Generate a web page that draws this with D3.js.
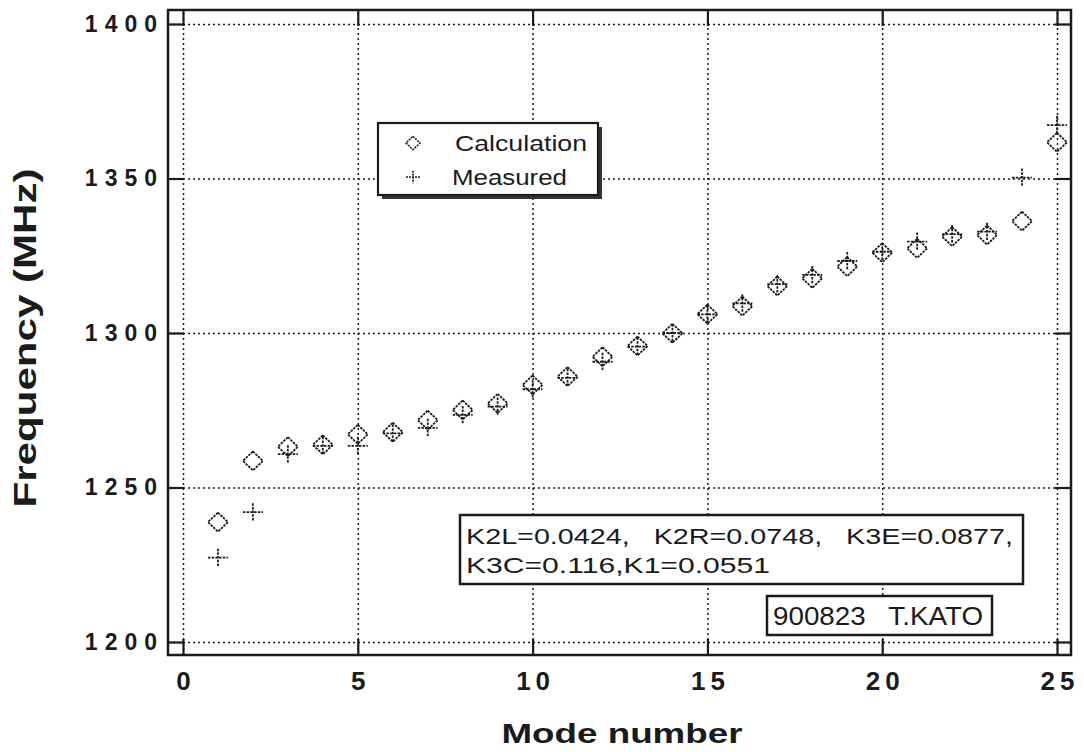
<!DOCTYPE html>
<html>
<head>
<meta charset="utf-8">
<script src="https://cdn.jsdelivr.net/npm/d3@7"></script>
<style>
  html, body { margin: 0; padding: 0; background: #fff; }
  svg { display: block; font-family: "Liberation Sans", Arial, Helvetica, sans-serif; }
</style>
</head>
<body>
<div id="chart"></div>
<script>
// ------------------------------------------------- Data -------------------------------------------------
const modes = [1, 2, 3, 4, 5, 6, 7, 8, 9, 10, 11, 12, 13, 14, 15, 16, 17, 18, 19, 20, 21, 22, 23, 24, 25];
const calculation = [1238.8, 1258.6, 1263.2, 1263.8, 1267.2, 1267.9, 1271.8, 1275.1, 1277.2, 1283.2,
                     1285.9, 1292.3, 1295.8, 1299.9, 1306.1, 1308.7, 1315.2, 1317.7, 1321.5, 1326.0,
                     1327.4, 1331.2, 1331.7, 1336.2, 1361.7];
const measured = [1227.3, 1242.0, 1260.8, 1263.5, 1263.5, 1267.5, 1269.3, 1273.5, 1276.2, 1281.8,
                  1285.5, 1290.7, 1295.6, 1300.0, 1306.0, 1309.6, 1315.8, 1318.8, 1323.3, 1326.3,
                  1329.6, 1332.0, 1332.8, 1350.3, 1367.3];
const xTicks = [0, 5, 10, 15, 20, 25];
const yTicks = [1200, 1250, 1300, 1350, 1400];
const legendLabels = ["Calculation", "Measured"];
const noteLines = ["K2L=0.0424,   K2R=0.0748,   K3E=0.0877,", "K3C=0.116,K1=0.0551"];
const stamp = "900823   T.KATO";

// ------------------------------------------------- Layout -------------------------------------------------
const width = 1084, height = 752;
const ink = "#1b1b1b";
const font = '"Liberation Sans", Arial, Helvetica, sans-serif';
const pad = 14; // frame sits a little outside the data range

const x = d3.scaleLinear().domain([0, 25]).range([183, 1057]);
const y = d3.scaleLinear().domain([1200, 1400]).range([642, 24]);

const fL = x.range()[0] - pad - 1, fR = x.range()[1] + pad;
const fT = y.range()[1] - pad, fB = y.range()[0] + pad - 1;

const svg = d3.select("#chart").append("svg")
    .attr("width", width)
    .attr("height", height);

svg.append("rect").attr("width", width).attr("height", height).attr("fill", "#fff");

// spread the glyphs of a label apart by a fixed gap between characters
function spread(sel, gap) {
    sel.each(function () {
        const n = this.textContent.length;
        if (n < 2) return;
        const w = this.getComputedTextLength();
        d3.select(this).attr("textLength", w + gap * (n - 1)).attr("lengthAdjust", "spacing");
    });
}

// ------------------------------------------------- Dotted grid -------------------------------------------------
const gridX = svg.append("g")
    .attr("transform", `translate(0,${fB})`)
    .call(d3.axisBottom(x).tickValues(xTicks).tickSize(-(fB - fT)).tickFormat(""));
const gridY = svg.append("g")
    .attr("transform", `translate(${fL},0)`)
    .call(d3.axisLeft(y).tickValues(yTicks).tickSize(-(fR - fL)).tickFormat(""));
[gridX, gridY].forEach(g => {
    g.select(".domain").remove();
    g.selectAll("line")
        .attr("stroke", ink)
        .attr("stroke-width", 1.5)
        .attr("stroke-dasharray", "2,3");
});

// ------------------------------------------------- Frame and inward ticks -------------------------------------------------
svg.append("rect")
    .attr("x", fL).attr("y", fT)
    .attr("width", fR - fL).attr("height", fB - fT)
    .attr("fill", "none")
    .attr("stroke", ink)
    .attr("stroke-width", 2.5);

const tickLen = 16;
const frameTicks = [
    [d3.axisBottom(x).tickValues(xTicks), `translate(0,${fB})`],
    [d3.axisTop(x).tickValues(xTicks), `translate(0,${fT})`],
    [d3.axisLeft(y).tickValues(yTicks), `translate(${fL},0)`],
    [d3.axisRight(y).tickValues(yTicks), `translate(${fR},0)`]
];
frameTicks.forEach(([axis, tr]) => {
    const g = svg.append("g").attr("transform", tr)
        .call(axis.tickSize(-tickLen).tickFormat(""));
    g.select(".domain").remove();
    g.selectAll("line").attr("stroke", ink).attr("stroke-width", 2.2);
});

// ------------------------------------------------- Tick labels -------------------------------------------------
const xLab = svg.append("g")
    .attr("transform", `translate(0,${fB})`)
    .call(d3.axisBottom(x).tickValues(xTicks).tickSize(0).tickPadding(17).tickFormat(d3.format("d")));
xLab.select(".domain").remove();
xLab.attr("font-family", font);
xLab.selectAll("text")
    .attr("fill", ink)
    .style("font-size", "26px")
    .style("font-weight", "bold")
    .call(spread, 5);

const yLab = svg.append("g")
    .attr("transform", `translate(${fL},0)`)
    .call(d3.axisLeft(y).tickValues(yTicks).tickSize(0).tickPadding(11).tickFormat(d3.format("d")));
yLab.select(".domain").remove();
yLab.attr("font-family", font);
yLab.selectAll("text")
    .attr("fill", ink)
    .style("font-size", "23px")
    .style("font-weight", "bold")
    .call(spread, 7);

// ------------------------------------------------- Axis titles -------------------------------------------------
svg.append("text")
    .attr("x", (x.range()[0] + x.range()[1]) / 2 + 2)
    .attr("y", 743)
    .attr("text-anchor", "middle")
    .attr("fill", ink)
    .style("font-size", "28px")
    .style("font-weight", "bold")
    .attr("textLength", 241)
    .attr("lengthAdjust", "spacingAndGlyphs")
    .text("Mode number");

svg.append("text")
    .attr("transform", "translate(36,338) rotate(-90)")
    .attr("text-anchor", "middle")
    .attr("fill", ink)
    .style("font-size", "32px")
    .style("font-weight", "bold")
    .attr("textLength", 339)
    .attr("lengthAdjust", "spacingAndGlyphs")
    .text("Frequency (MHz)");

// ------------------------------------------------- Markers -------------------------------------------------
function diamond(cx, cy, r) {
    return `M${cx},${cy - r * 0.95}L${cx + r},${cy}L${cx},${cy + r * 0.95}L${cx - r},${cy}Z`;
}
function cross(cx, cy, r) {
    return `M${cx - r},${cy}L${cx + r},${cy}M${cx},${cy - r * 0.9}L${cx},${cy + r * 0.9}`;
}

const marks = svg.append("g")
    .attr("fill", "none")
    .attr("stroke", ink)
    .attr("stroke-width", 1.8);

marks.selectAll(".calc")
    .data(modes)
    .join("path")
    .attr("class", "calc")
    .attr("stroke-dasharray", "2.5,1")
    .attr("d", (m, i) => diamond(x(m), y(calculation[i]), 10));

marks.selectAll(".meas")
    .data(modes)
    .join("path")
    .attr("class", "meas")
    .attr("stroke-dasharray", "2.5,1.2")
    .attr("d", (m, i) => cross(x(m), y(measured[i]), 10));

// ------------------------------------------------- Legend -------------------------------------------------
const legend = svg.append("g").attr("transform", "translate(378,123)");
legend.append("rect")
    .attr("x", 4).attr("y", 4).attr("width", 220).attr("height", 72)
    .attr("fill", "#333");
legend.append("rect")
    .attr("width", 220).attr("height", 72)
    .attr("fill", "#fff")
    .attr("stroke", ink)
    .attr("stroke-width", 2.2);

legend.append("path")
    .attr("d", diamond(35, 20, 7))
    .attr("fill", "none").attr("stroke", ink).attr("stroke-width", 1.6)
    .attr("stroke-dasharray", "2,1");
legend.append("path")
    .attr("d", cross(35, 54, 7))
    .attr("fill", "none").attr("stroke", ink).attr("stroke-width", 1.6)
    .attr("stroke-dasharray", "2,1");

const legendW = [132, 115];
legend.selectAll(".lab")
    .data(legendLabels)
    .join("text")
    .attr("class", "lab")
    .attr("x", (d, i) => i === 0 ? 77 : 74)
    .attr("y", (d, i) => 28 + i * 34)
    .attr("fill", ink)
    .style("font-size", "22px")
    .attr("textLength", (d, i) => legendW[i])
    .attr("lengthAdjust", "spacingAndGlyphs")
    .text(d => d);

// ------------------------------------------------- Annotation boxes -------------------------------------------------
svg.append("rect")
    .attr("x", 460).attr("y", 515).attr("width", 563).attr("height", 69)
    .attr("fill", "#fff").attr("stroke", ink).attr("stroke-width", 2.5);

const noteW = [547, 304];
svg.selectAll(".note")
    .data(noteLines)
    .join("text")
    .attr("class", "note")
    .attr("x", 466)
    .attr("y", (d, i) => 544 + i * 29)
    .attr("fill", ink)
    .style("font-size", "22px")
    .style("white-space", "pre")
    .attr("textLength", (d, i) => noteW[i])
    .attr("lengthAdjust", "spacingAndGlyphs")
    .text(d => d);

svg.append("rect")
    .attr("x", 767).attr("y", 596).attr("width", 225).attr("height", 39)
    .attr("fill", "#fff").attr("stroke", ink).attr("stroke-width", 2.5);

svg.append("text")
    .attr("x", 773).attr("y", 625)
    .attr("fill", ink)
    .style("font-size", "25px")
    .style("white-space", "pre")
    .attr("textLength", 210)
    .attr("lengthAdjust", "spacingAndGlyphs")
    .text(stamp);
</script>
</body>
</html>
